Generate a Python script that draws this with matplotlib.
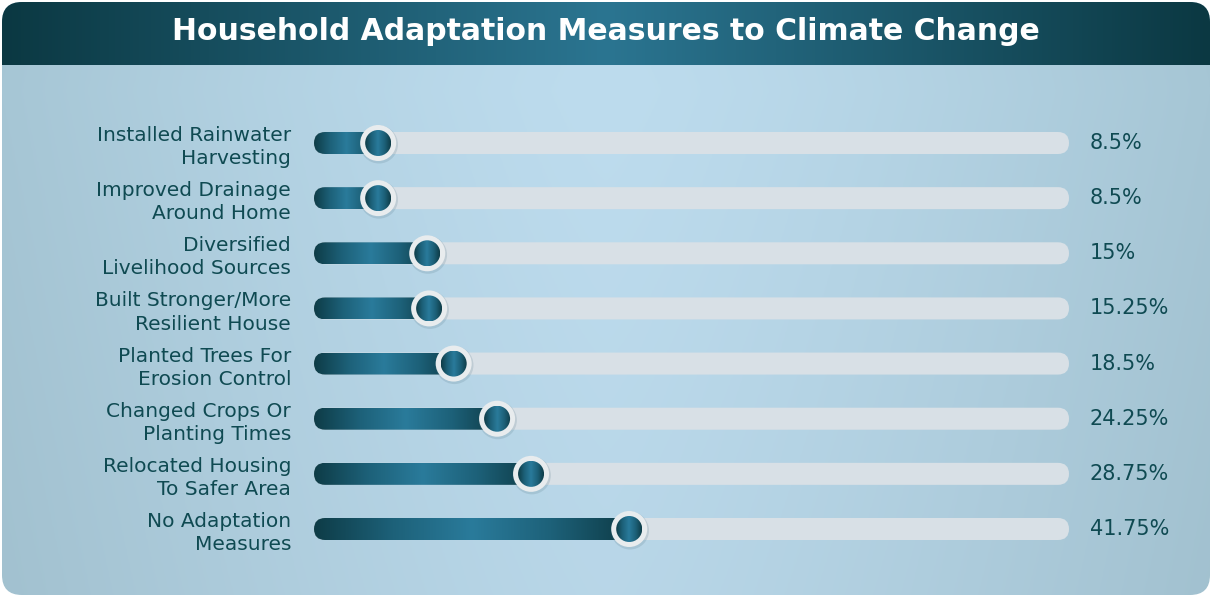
import numpy as np
import matplotlib
matplotlib.use("Agg")
import matplotlib.pyplot as plt
from matplotlib.patches import FancyBboxPatch, Ellipse
from matplotlib.colors import LinearSegmentedColormap, to_rgb

measures = [
    "Installed Rainwater\nHarvesting",
    "Improved Drainage\nAround Home",
    "Diversified\nLivelihood Sources",
    "Built Stronger/More\nResilient House",
    "Planted Trees For\nErosion Control",
    "Changed Crops Or\nPlanting Times",
    "Relocated Housing\nTo Safer Area",
    "No Adaptation\nMeasures",
]
shares = [8.5, 8.5, 15, 15.25, 18.5, 24.25, 28.75, 41.75]
share_labels = ["8.5%", "8.5%", "15%", "15.25%", "18.5%", "24.25%", "28.75%", "41.75%"]

W, H = 1212, 598
plt.rcParams["font.family"] = ["DejaVu Sans"]
TEXT = "#0f4a52"

fig = plt.figure(figsize=(W / 100, H / 100), dpi=100)
fig.patch.set_facecolor("white")

# card background + header
bg = fig.add_axes([0, 0, 1, 1])
bg.set_xlim(0, W)
bg.set_ylim(H, 0)
bg.axis("off")

card = FancyBboxPatch((2, 2), W - 4, H - 5, boxstyle="round,pad=0,rounding_size=20",
                      facecolor="none", edgecolor="none")
bg.add_patch(card)

xs = np.linspace(0, 1, 400)
t = np.abs(xs - 0.5) * 2
c_mid, c_edge = np.array(to_rgb("#bddcee")), np.array(to_rgb("#a6c6d5"))
row = c_mid + (c_edge - c_mid) * (t ** 1.3)[:, None]
ys = np.linspace(0, 1, 200)
vshade = 1 - 0.03 * np.abs(ys - 0.15)[:, None, None]
body = row[None, :, :] * vshade
im = bg.imshow(np.clip(body, 0, 1), extent=(0, W, H, 0), aspect="auto", zorder=0)
im.set_clip_path(card)

h_mid, h_edge = np.array(to_rgb("#2b7591")), np.array(to_rgb("#0b3842"))
hrow = h_mid + (h_edge - h_mid) * (t ** 1.0)[:, None]
him = bg.imshow(hrow[None, :, :], extent=(0, W, 65, 0), aspect="auto", zorder=1)
him.set_clip_path(card)
bg.set_xlim(0, W)
bg.set_ylim(H, 0)
bg.text(W / 2, 32, "Household Adaptation Measures to Climate Change", color="white",
        fontsize=21.5, fontweight="bold", ha="center", va="center", zorder=2)

# bars
n = len(measures)
x0, x1 = 314, 1069
step = (529 - 143) / (n - 1)
ytop = 143 - step / 2
ax = fig.add_axes([x0 / W, 1 - (ytop + n * step) / H, (x1 - x0) / W, n * step / H])
ax.patch.set_alpha(0)
px_x = (x1 - x0) / 100
px_y = step
ma = px_x / px_y
bar_h = 22 / px_y
rnd = 11 / px_x

fill_cmap = LinearSegmentedColormap.from_list(
    "fill", ["#0e3c47", "#1d6179", "#2a7b9b", "#1d6179", "#0e3c47"])
grad = fill_cmap(np.linspace(0, 1, 256))[None, :, :]

for i, v in enumerate(shares):
    track = FancyBboxPatch((0, i - bar_h / 2), 100, bar_h,
                           boxstyle=f"round,pad=0,rounding_size={rnd}",
                           mutation_aspect=ma, facecolor="#d8e0e6", edgecolor="none", zorder=1)
    ax.add_patch(track)
    fill = FancyBboxPatch((0, i - bar_h / 2), v, bar_h,
                          boxstyle=f"round,pad=0,rounding_size={rnd}",
                          mutation_aspect=ma, facecolor="none", edgecolor="none", zorder=2)
    ax.add_patch(fill)
    g = ax.imshow(grad, extent=(0, v, i + bar_h / 2, i - bar_h / 2), aspect="auto", zorder=2)
    g.set_clip_path(fill)

    # knob
    shadow = Ellipse((v + 0.8 / px_x, i + 1.5 / px_y), 2 * 19 / px_x, 2 * 19 / px_y,
                     facecolor="#5b7d8c", alpha=0.2, edgecolor="none", zorder=3)
    ax.add_patch(shadow)
    ring = Ellipse((v, i), 2 * 18 / px_x, 2 * 18 / px_y, facecolor="#e8ecee",
                   edgecolor="none", zorder=4)
    ax.add_patch(ring)
    core = Ellipse((v, i), 2 * 13 / px_x, 2 * 13 / px_y, facecolor="none",
                   edgecolor="none", zorder=5)
    ax.add_patch(core)
    kg = ax.imshow(grad, extent=(v - 13 / px_x, v + 13 / px_x, i + 13 / px_y, i - 13 / px_y),
                   aspect="auto", zorder=5)
    kg.set_clip_path(core)

    ax.annotate(share_labels[i], (100, i), xytext=(15, 0), textcoords="offset points",
                ha="left", va="center", fontsize=15, color=TEXT)

ax.set_xlim(0, 100)
ax.set_ylim(n - 0.5, -0.5)
ax.set_yticks(range(n))
ax.set_yticklabels(measures, fontsize=14.5, color=TEXT, linespacing=1.28)
ax.tick_params(axis="y", length=0, pad=16.5)
ax.set_xticks([])
for s in ax.spines.values():
    s.set_visible(False)

fig.savefig("out.png", dpi=100, facecolor="white")
